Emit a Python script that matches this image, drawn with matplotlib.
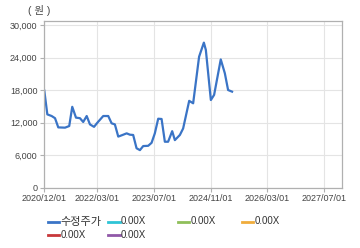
import pandas as pd
import matplotlib.pyplot as plt
import matplotlib.dates as mdates
from matplotlib.lines import Line2D
from matplotlib.ticker import FuncFormatter

plt.rcParams['font.family'] = ['Liberation Sans', 'Noto Sans CJK KR', 'DejaVu Sans']

dates = ['2020-12-01', '2020-12-27', '2021-02-02', '2021-03-03', '2021-03-31',
         '2021-05-28', '2021-07-03', '2021-07-29', '2021-08-30', '2021-10-03',
         '2021-10-31', '2021-11-30', '2021-12-28', '2022-02-01', '2022-03-01',
         '2022-04-21', '2022-06-03', '2022-07-02', '2022-07-30', '2022-08-28',
         '2022-10-04', '2022-11-08', '2022-12-06', '2023-01-03', '2023-02-01',
         '2023-03-02', '2023-03-30', '2023-05-12', '2023-06-10', '2023-07-08',
         '2023-08-06', '2023-09-04', '2023-10-02', '2023-10-30', '2023-12-04',
         '2023-12-27', '2024-02-08', '2024-03-07', '2024-04-28', '2024-06-01',
         '2024-07-22', '2024-09-01', '2024-09-18', '2024-10-31', '2024-11-28',
         '2025-01-24', '2025-02-28', '2025-03-28', '2025-05-01']
prices = [17900, 13500, 13200, 12800, 11100,
          11050, 11350, 14900, 12900, 12800,
          12100, 13200, 11650, 11200, 11950,
          13200, 13200, 11850, 11650, 9400,
          9700, 10000, 9750, 9700, 7250,
          6900, 7650, 7700, 8250, 10000,
          12700, 12650, 8450, 8450, 10400,
          8750, 9700, 10900, 16000, 15550,
          24150, 26750, 25400, 16150, 17100,
          23650, 21100, 18000, 17700]

xticks = ['2020/12/01', '2022/03/01', '2023/07/01', '2024/11/01', '2026/03/01', '2027/07/01']
yticks = [0, 6000, 12000, 18000, 24000, 30000]

legend_labels = ['수정주가', '0.00X', '0.00X', '0.00X', '0.00X', '0.00X']
legend_colors = ['#3a74c6', '#2ec4d6', '#8fbf5a', '#f0ac3c', '#c8383a', '#9058a8']
legend_pos = [(47.7, 221.5), (108, 221.5), (177.7, 221.5), (241.7, 221.5),
              (47.7, 235), (108, 235)]

W, H = 360, 248
fig = plt.figure(figsize=(W / 100, H / 100), dpi=100)
ax = fig.add_axes([44.3 / W, 1 - 187.5 / H, (342 - 44.3) / W, (187.5 - 20.7) / H])

x = pd.to_datetime(dates)
ax.plot(x, prices, color=legend_colors[0], linewidth=1.6, solid_joinstyle='round')

ax.set_xlim(pd.Timestamp('2020-12-01'), pd.Timestamp('2027-12-01'))
ax.set_ylim(0, 30800)
ax.set_xticks(pd.to_datetime(xticks))
ax.xaxis.set_major_formatter(mdates.DateFormatter('%Y/%m/%d'))
ax.set_yticks(yticks)
ax.yaxis.set_major_formatter(FuncFormatter(lambda v, p: f'{int(v):,}'))

ax.grid(True, color='#e4e4e4', linewidth=0.8)
ax.set_axisbelow(True)
for s in ax.spines.values():
    s.set_color('#b0b0b0')
    s.set_linewidth(0.9)
ax.tick_params(axis='both', labelsize=6.5, colors='#b0b0b0', labelcolor='#444444',
               length=3, width=0.8, pad=2)

fig.text(39 / W, 1 - 11 / H, '( 원 )', fontsize=7.5, color='#444444', ha='center', va='center')

for (lx, ly), lab, col in zip(legend_pos, legend_labels, legend_colors):
    fig.add_artist(Line2D([lx / W, (lx + 11.5) / W], [1 - ly / H, 1 - ly / H],
                          color=col, linewidth=2, transform=fig.transFigure))
    size = 8 if lab == '수정주가' else 7
    fig.text((lx + 13) / W, 1 - ly / H, lab, fontsize=size, color='#333333',
             ha='left', va='center')

fig.savefig('out.png', dpi=100)
